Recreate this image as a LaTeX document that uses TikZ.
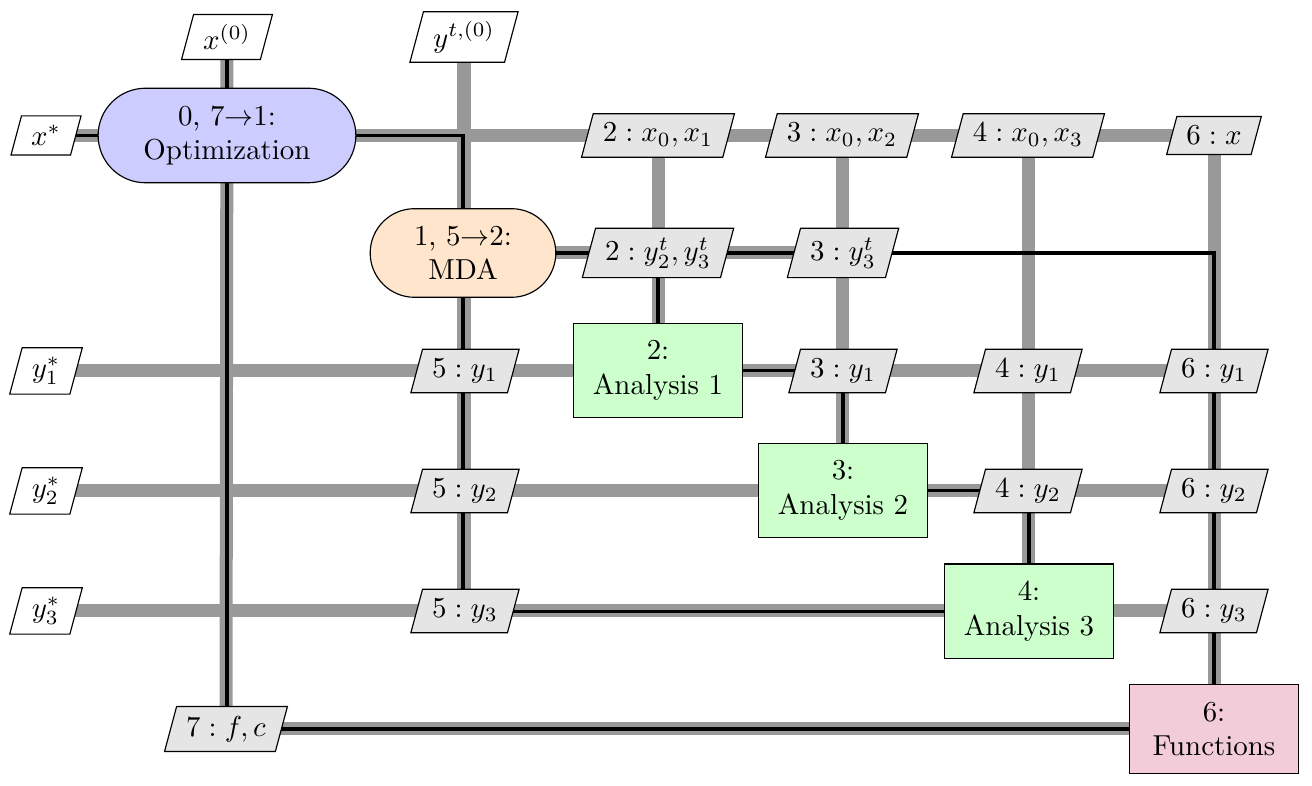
\documentclass[tikz,border=0pt]{standalone}
\usetikzlibrary{shapes.geometric,shapes.misc,backgrounds}
\pgfdeclarelayer{datalayer}
\pgfdeclarelayer{proclayer}
\pgfsetlayers{datalayer,proclayer,main}
\tikzset{
  iobox/.style={trapezium, trapezium left angle=75, trapezium right angle=105, draw, fill=white, inner sep=3.33pt},
  interbox/.style={iobox, fill=black!10},
  optbox/.style={rounded rectangle, draw, fill=blue!20, align=center, inner xsep=12pt, inner ysep=6pt},
  mdabox/.style={rounded rectangle, draw, fill=orange!20, align=center, inner xsep=12pt, inner ysep=6pt},
  anbox/.style={rectangle, draw, fill=green!20, align=center, inner sep=6pt, minimum width=58.2pt},
  funbox/.style={rectangle, draw, fill=purple!20, align=center, inner sep=6pt, minimum width=58.2pt},
  dataline/.style={draw=black!40, line width=4.5pt},
  procline/.style={draw=black, line width=1.1pt},
}
\begin{document}
\begin{tikzpicture}[x=0.346pt, y=-0.346pt]
\useasboundingbox (0,0) rectangle (1312,786);
% process nodes
\node[optbox] (opt) at (227,135.5) {0, 7$\to$1:\\Optimization};
\node[mdabox] (mda) at (463,253) {1, 5$\to$2:\\MDA};
\node[anbox] (a1) at (658,370.5) {2:\\Analysis 1};
\node[anbox] (a2) at (843,490.5) {3:\\Analysis 2};
\node[anbox] (a3) at (1029,611.5) {4:\\Analysis 3};
\node[funbox] (func) at (1214,729) {6:\\Functions};
% inputs
\node[iobox] (x0) at (227,37) {$x^{(0)}$};
\node[iobox] (yt0) at (464,37) {$y^{t,(0)}$};
\node[iobox] (xs) at (46,135.5) {$x^*$};
\node[iobox] (y1s) at (46,371) {$y_1^*$};
\node[iobox] (y2s) at (46,491) {$y_2^*$};
\node[iobox] (y3s) at (46,611) {$y_3^*$};
% intermediate data
\node[interbox] (dx1) at (658,135.5) {$2: x_0, x_1$};
\node[interbox] (dx2) at (842,135.5) {$3: x_0, x_2$};
\node[interbox] (dx3) at (1028,135.5) {$4: x_0, x_3$};
\node[interbox] (dx6) at (1214,135.5) {$6: x$};
\node[interbox] (dyt2) at (658,253) {$2: y_2^t, y_3^t$};
\node[interbox] (dyt3) at (843,253) {$3: y_3^t$};
\node[interbox] (d5y1) at (465,371) {$5: y_1$};
\node[interbox] (d3y1) at (843,371) {$3: y_1$};
\node[interbox] (d4y1) at (1028,371) {$4: y_1$};
\node[interbox] (d6y1) at (1214,371) {$6: y_1$};
\node[interbox] (d5y2) at (465,491) {$5: y_2$};
\node[interbox] (d4y2) at (1028,491) {$4: y_2$};
\node[interbox] (d6y2) at (1214,491) {$6: y_2$};
\node[interbox] (d5y3) at (465,611) {$5: y_3$};
\node[interbox] (d6y3) at (1214,611) {$6: y_3$};
\node[interbox] (d7) at (226,729) {$7: f, c$};
% data lines
\begin{pgfonlayer}{datalayer}
\draw[dataline] (xs.center) -- (dx6.center);
\draw[dataline] (x0.center) -- (d7.center);
\draw[dataline] (yt0.center) -- (yt0.center |- d5y3.center);
\draw[dataline] (mda.center) -- (dyt3.center);
\draw[dataline] (dx1.center) -- (a1.center);
\draw[dataline] (dx2.center) -- (dx2.center |- a2.center);
\draw[dataline] (dx3.center) -- (dx3.center |- a3.center);
\draw[dataline] (dx6.center) -- (func.center);
\draw[dataline] (y1s.center) -- (d6y1.center);
\draw[dataline] (y2s.center) -- (d6y2.center);
\draw[dataline] (y3s.center) -- (d6y3.center);
\draw[dataline] (d7.center) -- (func.center);
\end{pgfonlayer}
% process lines
\begin{pgfonlayer}{proclayer}
\draw[procline] (x0.center) -- (opt.center);
\draw[procline] (xs.center) -- (opt.center);
\draw[procline] (opt.center) -| (mda.center);
\draw[procline] (mda.center) -- (dyt3.center) -| (func.center);
\draw[procline] (dyt2.center) -- (a1.center);
\draw[procline] (a1.center) -| (a2.center);
\draw[procline] (a2.center) -| (a3.center);
\draw[procline] (a3.center) -| (mda.center);
\draw[procline] (func.center) -| (opt.center);
\end{pgfonlayer}
\end{tikzpicture}
\end{document}
